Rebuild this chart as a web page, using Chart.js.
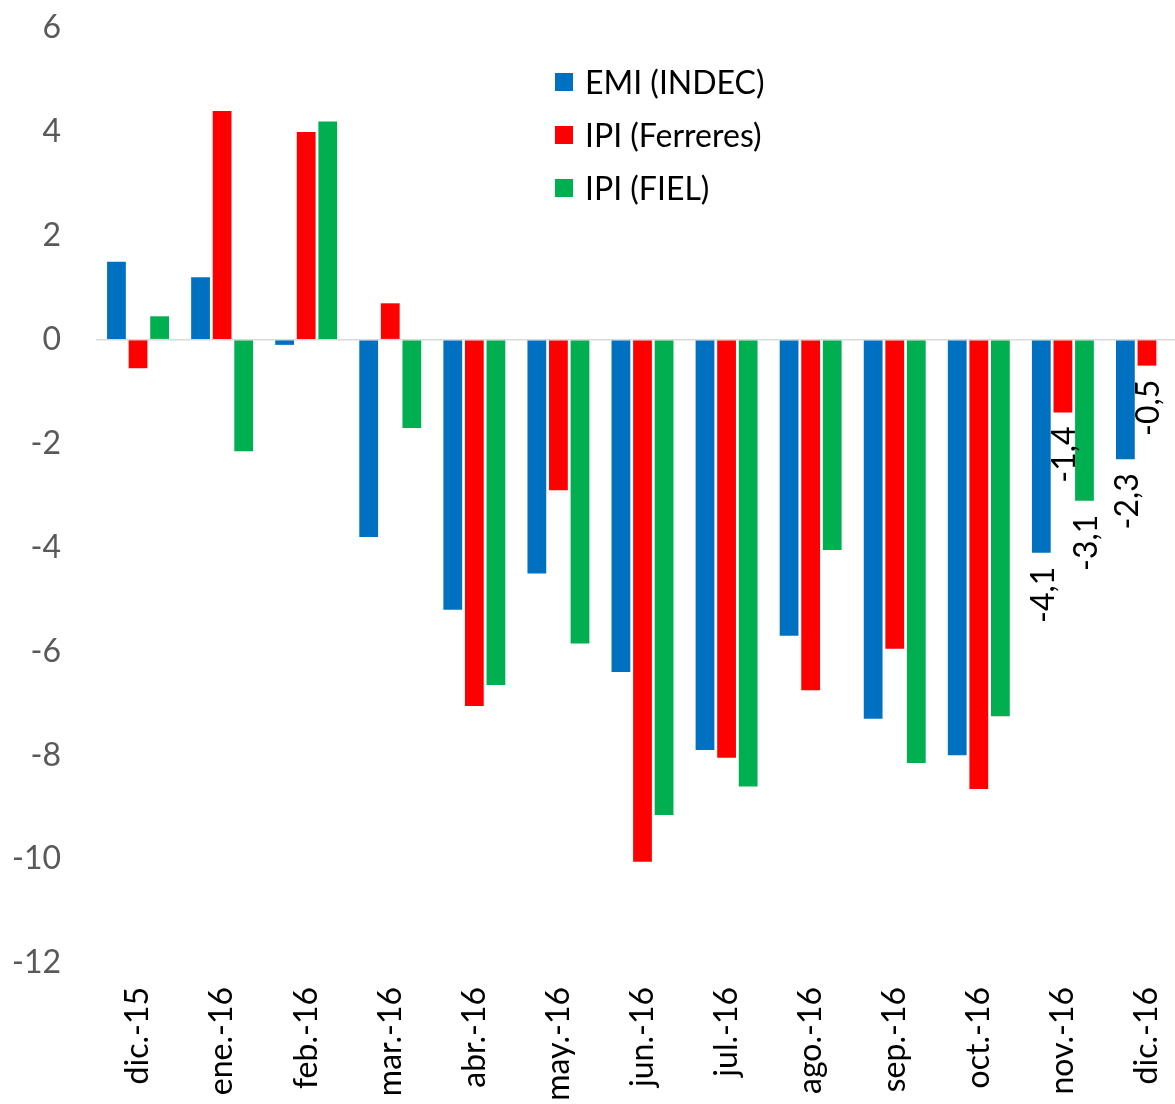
<!DOCTYPE html>
<html>
<head>
<meta charset="utf-8">
<script src="https://cdn.jsdelivr.net/npm/chart.js@4"></script>
<style>
  html, body { margin: 0; padding: 0; background: #fff; overflow: hidden; }
  #wrap { position: relative; width: 1200px; height: 1130px; }
  #legend { position: absolute; left: 555px; top: 55px; font-family: Lato, "Open Sans", sans-serif; font-size: 32px; color: #000; }
  #legend .item { display: flex; align-items: center; height: 53px; }
  #legend .sw { width: 18px; height: 18px; margin-right: 12px; }
</style>
</head>
<body>
<div id="wrap">
  <canvas id="chart" width="1200" height="1130"></canvas>
  <div id="legend"></div>
</div>
<script>
// ── Data ───────────────────────────────────────────
const MONTHS = ["dic.-15","ene.-16","feb.-16","mar.-16","abr.-16","may.-16","jun.-16",
                "jul.-16","ago.-16","sep.-16","oct.-16","nov.-16","dic.-16"];
const EMI_INDEC    = [1.5, 1.2, -0.1, -3.8, -5.2, -4.5, -6.4, -7.9, -5.7, -7.3, -8.0, -4.1, -2.3];
const IPI_FERRERES = [-0.55, 4.4, 4.0, 0.7, -7.05, -2.9, -10.05, -8.05, -6.75, -5.95, -8.65, -1.4, -0.5];
const IPI_FIEL     = [0.45, -2.15, 4.2, -1.7, -6.65, -5.85, -9.15, -8.6, -4.05, -8.15, -7.25, -3.1, null];
const SERIES_NAMES = ["EMI (INDEC)", "IPI (Ferreres)", "IPI (FIEL)"];
const SERIES_COLORS = ["#0070C0", "#FF0000", "#00B050"];
const LABELED_MONTHS = ["nov.-16", "dic.-16"];
const Y_TICKS = [6, 4, 2, 0, -2, -4, -6, -8, -10, -12];

const FONT = "Lato, 'Open Sans', sans-serif";

// ── Legend (html) ──────────────────────────────────
document.getElementById("legend").innerHTML = SERIES_NAMES.map((n, i) =>
  `<div class="item"><span class="sw" style="background:${SERIES_COLORS[i]}"></span>${n}</div>`).join("");

// ── Value labels for the last months ───────────────
const valueLabels = {
  id: "valueLabels",
  afterDatasetsDraw(chart) {
    const ctx = chart.ctx;
    ctx.save();
    ctx.font = `32px ${FONT}`;
    ctx.fillStyle = "#000";
    ctx.textAlign = "right";
    ctx.textBaseline = "middle";
    chart.data.datasets.forEach((ds, di) => {
      const meta = chart.getDatasetMeta(di);
      meta.data.forEach((bar, i) => {
        if (!LABELED_MONTHS.includes(MONTHS[i])) return;
        const v = ds.data[i];
        if (v == null) return;
        const txt = v.toFixed(1).replace(".", ",");
        ctx.save();
        ctx.translate(bar.x + 2, bar.y + 14);
        ctx.rotate(-Math.PI / 2);
        ctx.fillText(txt, 0, 0);
        ctx.restore();
      });
    });
    ctx.restore();
  }
};

new Chart(document.getElementById("chart"), {
  type: "bar",
  data: {
    labels: MONTHS,
    datasets: [EMI_INDEC, IPI_FERRERES, IPI_FIEL].map((d, i) => ({
      label: SERIES_NAMES[i],
      data: d,
      backgroundColor: SERIES_COLORS[i],
      categoryPercentage: 0.77,
      barPercentage: 0.87,
    })),
  },
  options: {
    responsive: false,
    animation: false,
    layout: { padding: { top: 28, right: 11, left: 0, bottom: 0 } },
    plugins: { legend: { display: false }, tooltip: { enabled: false } },
    scales: {
      x: {
        grid: { display: false },
        border: { display: false },
        ticks: {
          color: "#000",
          font: { family: FONT, size: 32 },
          minRotation: 90, maxRotation: 90,
          padding: 16,
          autoSkip: false,
        },
        afterFit(s) { s.height = 1130 - 963; s.paddingLeft = 0; s.paddingRight = 0; },
      },
      y: {
        min: -12, max: 6,
        afterBuildTicks(s) { s.ticks = Y_TICKS.map(v => ({ value: v })); },
        grid: {
          drawTicks: false,
          color: c => (c.tick && c.tick.value === 0 ? "#d9d9d9" : "rgba(0,0,0,0)"),
          lineWidth: 1.5,
        },
        border: { display: false },
        ticks: {
          color: "#595959",
          font: { family: FONT, size: 32 },
          padding: 35,
        },
        afterFit(s) { s.width = 96; s.paddingTop = 0; s.paddingBottom = 0; },
      },
    },
  },
  plugins: [valueLabels],
});
</script>
</body>
</html>
